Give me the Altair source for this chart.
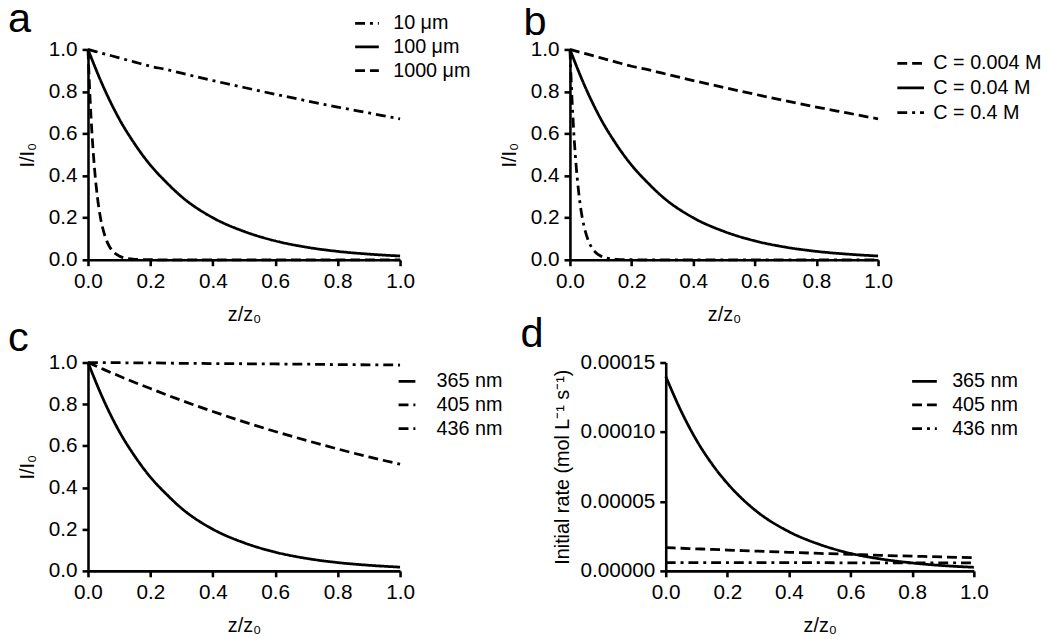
import altair as alt
import pandas as pd

FONT = "Liberation Sans"

# ---------------- data ----------------
z_grid = [0.0, 0.05, 0.1, 0.15, 0.2, 0.25, 0.3, 0.4, 0.5, 0.6, 0.7, 0.8, 0.9, 1.0]
z_fine = [0.0, 0.005, 0.01, 0.015, 0.02, 0.03, 0.04, 0.05, 0.06, 0.07, 0.08,
          0.1, 0.12, 0.15, 0.2, 0.3, 0.5, 1.0]

# panel a  (I/I0)
a_labels = ["10 μm", "100 μm", "1000 μm"]
a_10 = [1.0, 0.98, 0.96, 0.94, 0.92, 0.905, 0.887, 0.852, 0.819, 0.787, 0.756, 0.726, 0.698, 0.670]
a_100 = [1.0, 0.82, 0.67, 0.55, 0.45, 0.37, 0.30, 0.20, 0.135, 0.09, 0.06, 0.04, 0.027, 0.018]
a_1000 = [1.0, 0.82, 0.67, 0.55, 0.45, 0.30, 0.20, 0.135, 0.09, 0.06, 0.04,
          0.018, 0.008, 0.0025, 0.0003, 0.0, 0.0, 0.0]

# panel b  (I/I0)
b_labels = ["C = 0.004 M", "C = 0.04 M", "C = 0.4 M"]
b_0004 = [1.0, 0.98, 0.96, 0.94, 0.92, 0.905, 0.887, 0.852, 0.819, 0.787, 0.756, 0.726, 0.698, 0.670]
b_004 = [1.0, 0.82, 0.67, 0.55, 0.45, 0.37, 0.30, 0.20, 0.135, 0.09, 0.06, 0.04, 0.027, 0.018]
b_04 = [1.0, 0.82, 0.67, 0.55, 0.45, 0.30, 0.20, 0.135, 0.09, 0.06, 0.04,
        0.018, 0.008, 0.0025, 0.0003, 0.0, 0.0, 0.0]

# panel c  (I/I0)
c_labels = ["365 nm", "405 nm", "436 nm"]
c_365 = [1.0, 0.82, 0.67, 0.55, 0.45, 0.37, 0.30, 0.20, 0.135, 0.09, 0.06, 0.04, 0.027, 0.018]
c_405 = [1.0, 0.967, 0.935, 0.904, 0.875, 0.846, 0.818, 0.765, 0.715, 0.669, 0.626, 0.585, 0.547, 0.512]
c_436 = [1.0, 0.999, 0.999, 0.998, 0.998, 0.997, 0.996, 0.995, 0.994, 0.993, 0.992, 0.990, 0.989, 0.988]

# panel d  (initial rate, mol L-1 s-1)
d_labels = ["365 nm", "405 nm", "436 nm"]
d_365 = [0.000140, 0.000115, 0.000094, 0.000077, 0.000063, 0.0000515, 0.000042,
         0.0000282, 0.000019, 0.0000126, 0.0000085, 0.0000057, 0.0000038, 0.0000026]
d_405 = [0.0000167, 0.0000163, 0.0000159, 0.0000155, 0.0000150, 0.0000146, 0.0000142,
         0.0000134, 0.0000126, 0.0000119, 0.0000112, 0.0000106, 0.0000100, 0.0000095]
d_436 = [0.0000060, 0.0000060, 0.0000060, 0.0000060, 0.0000060, 0.0000059, 0.0000059,
         0.0000059, 0.0000059, 0.0000058, 0.0000058, 0.0000058, 0.0000058, 0.0000057]

x_ticks = [0.0, 0.2, 0.4, 0.6, 0.8, 1.0]
i_ticks = [0.0, 0.2, 0.4, 0.6, 0.8, 1.0]
rate_ticks = [0.0, 0.00005, 0.00010, 0.00015]

SOLID = [1, 0]
DASH = [10, 5]
DASHDOT = [10, 5, 3, 5]


def frame(series):
    rows = []
    for label, xs, ys in series:
        for x, y in zip(xs, ys):
            rows.append({"z": x, "v": y, "series": label})
    return pd.DataFrame(rows)


def panel(df, letter, labels, dashes, ytitle, yticks, yfmt, ydomain, width, height,
          lx, ly, sym, loff, rowpad, tdx, tdy, ytpad):
    return alt.Chart(df).mark_line(
        color="black", strokeWidth=2.8, interpolate="monotone"
    ).encode(
        x=alt.X("z:Q",
                scale=alt.Scale(domain=[0, 1], nice=False, zero=False),
                axis=alt.Axis(values=x_ticks, format=".1f", title="z/z₀")),
        y=alt.Y("v:Q",
                scale=alt.Scale(domain=ydomain, nice=False, zero=False),
                axis=alt.Axis(values=yticks, format=yfmt, title=ytitle,
                              titlePadding=ytpad)),
        strokeDash=alt.StrokeDash(
            "series:N",
            sort=labels,
            scale=alt.Scale(domain=labels, range=dashes),
            legend=alt.Legend(
                title=None, orient="none", legendX=lx, legendY=ly,
                symbolType="stroke", symbolSize=sym, symbolStrokeWidth=2.8,
                symbolStrokeColor="black", labelFont=FONT, labelFontSize=20,
                labelColor="black", labelOffset=loff, rowPadding=rowpad, padding=0,
            ),
        ),
    ).properties(
        width=width, height=height,
        title=alt.TitleParams(letter, anchor="start", frame="group", fontSize=42,
                              font=FONT, fontWeight="normal", color="black",
                              baseline="alphabetic", dx=tdx, dy=tdy),
    )


pa = panel(frame([(a_labels[0], z_grid, a_10), (a_labels[1], z_grid, a_100),
                  (a_labels[2], z_fine, a_1000)]),
           "a", a_labels, [DASHDOT, SOLID, DASH], "I/I₀", i_ticks, ".1f", [0, 1],
           316, 213, 269, -40, 576, 13, 0, -81, 68, 11)
pb = panel(frame([(b_labels[0], z_grid, b_0004), (b_labels[1], z_grid, b_004),
                  (b_labels[2], z_fine, b_04)]),
           "b", b_labels, [DASH, SOLID, DASHDOT], "I/I₀", i_ticks, ".1f", [0, 1],
           312, 213, 330, -1, 729, 8, -2, -47, 42, 11)
pc = panel(frame([(c_labels[0], z_grid, c_365), (c_labels[1], z_grid, c_405),
                  (c_labels[2], z_grid, c_436)]),
           "c", c_labels, [SOLID, DASH, DASHDOT], "I/I₀", i_ticks, ".1f", [0, 1],
           316, 211, 313, 9, 289, 20, 4, -81, 45, 11)
pd_ = panel(frame([(d_labels[0], z_grid, d_365), (d_labels[1], z_grid, d_405),
                   (d_labels[2], z_grid, d_436)]),
            "d", d_labels, [SOLID, DASH, DASHDOT], "Initial rate (mol L⁻¹ s⁻¹)",
            rate_ticks, ".5f", [0, 0.00015],
            312, 211, 248, 5, 625, 14, -1, -147, 41, 8)

row1 = alt.hconcat(pa, pb, spacing=172, bounds="flush").resolve_scale(
    strokeDash="independent").resolve_legend(strokeDash="independent")
row2 = alt.hconcat(pc, pd_, spacing=269, bounds="flush").resolve_scale(
    strokeDash="independent").resolve_legend(strokeDash="independent")

chart = alt.vconcat(row1, row2, spacing=-11).resolve_scale(
    strokeDash="independent").resolve_legend(strokeDash="independent").properties(
    padding={"left": 0, "top": -14, "right": 0, "bottom": 0}, background="white"
).configure_view(stroke=None).configure_axis(
    grid=False, domainColor="black", domainWidth=2.6, tickColor="black",
    tickWidth=2.6, tickSize=6, labelFont=FONT, labelFontSize=21, labelColor="black",
    labelPadding=5, titleFont=FONT, titleFontSize=20, titleFontWeight="normal",
    titleColor="black",
).configure_axisX(labelFlush=False, titlePadding=13).configure_axisY(
    labelFlush=False)

chart.save("out.html", embed_options={"renderer": "svg", "actions": False})
